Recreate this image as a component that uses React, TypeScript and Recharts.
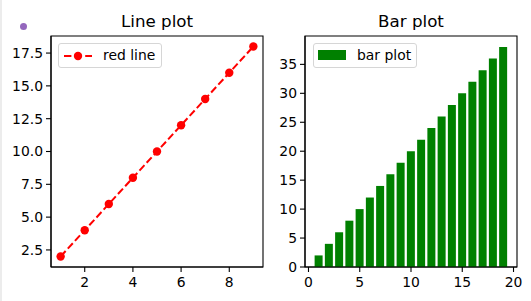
import { LineChart, Line, BarChart, Bar, XAxis, YAxis, ReferenceArea } from 'recharts'

const lineX = [1, 2, 3, 4, 5, 6, 7, 8, 9]
const lineY = [2, 4, 6, 8, 10, 12, 14, 16, 18]
const lineXTicks = [2, 4, 6, 8]
const lineYTicks = [2.5, 5, 7.5, 10, 12.5, 15, 17.5]

const barX = [1, 2, 3, 4, 5, 6, 7, 8, 9, 10, 11, 12, 13, 14, 15, 16, 17, 18, 19]
const barY = [2, 4, 6, 8, 10, 12, 14, 16, 18, 20, 22, 24, 26, 28, 30, 32, 34, 36, 38]
const barXTicks = [0, 5, 10, 15, 20]
const barYTicks = [0, 5, 10, 15, 20, 25, 30, 35]

const lineData = lineX.map((x, i) => ({ x, y: lineY[i] }))
const barData = barX.map((x, i) => ({ x, y: barY[i] }))

const lineXDomain = [0.6, 9.4]
const lineYDomain = [1.2, 18.8]
const barXDomain = [-0.34, 20.34]
const barYDomain = [0, 39.9]

const FONT = 'DejaVu Sans'
const tickStyle = { fill: '#000', fontSize: 13.9, fontFamily: FONT }
const axisStroke = { stroke: '#000', strokeWidth: 1.1 }

function Title({ text, center }: { text: string; center: number }) {
  return (
    <div
      style={{
        position: 'absolute',
        left: center - 100,
        width: 200,
        top: 11,
        textAlign: 'center',
        fontFamily: FONT,
        fontSize: 16.7,
        lineHeight: '20px',
        color: '#000',
      }}
    >
      {text}
    </div>
  )
}

const legendBox = {
  position: 'absolute' as const,
  top: 43,
  height: 25,
  boxSizing: 'border-box' as const,
  border: '1px solid #d6d6d6',
  borderRadius: 3,
  background: 'rgba(255,255,255,0.8)',
  fontFamily: FONT,
  fontSize: 13.9,
  color: '#000',
}

export default function App() {
  return (
    <div style={{ position: 'fixed', left: 0, top: 0, width: 531, height: 301, background: '#fff' }}>
      <div style={{ position: 'absolute', left: 0, top: 0, width: 2, height: 301, background: '#ececec' }} />
      <div
        style={{
          position: 'absolute',
          left: 19.5,
          top: 22.5,
          width: 7,
          height: 7,
          borderRadius: '50%',
          background: '#9467bd',
        }}
      />

      <div style={{ position: 'absolute', left: 0, top: 0 }}>
        <LineChart width={270} height={301} data={lineData} margin={{ top: 36, right: 7, bottom: 0, left: 0 }}>
          <XAxis
            dataKey="x"
            type="number"
            domain={lineXDomain}
            ticks={lineXTicks}
            allowDataOverflow
            height={34}
            tickSize={5}
            tickMargin={5}
            tick={tickStyle}
            tickLine={axisStroke}
            axisLine={axisStroke}
          />
          <YAxis
            type="number"
            domain={lineYDomain}
            ticks={lineYTicks}
            allowDataOverflow
            width={51}
            tickSize={5}
            tickMargin={3}
            tick={tickStyle}
            tickLine={axisStroke}
            axisLine={axisStroke}
            tickFormatter={(v: number) => v.toFixed(1)}
          />
          <ReferenceArea
            x1={lineXDomain[0]}
            x2={lineXDomain[1]}
            y1={lineYDomain[0]}
            y2={lineYDomain[1]}
            fill="none"
            stroke="#000"
            strokeWidth={1.1}
            ifOverflow="visible"
          />
          <Line
            dataKey="y"
            stroke="#ff0000"
            strokeWidth={2}
            strokeDasharray="7.4 3.2"
            dot={{ r: 4.2, fill: '#ff0000', stroke: '#ff0000', strokeWidth: 0 }}
            isAnimationActive={false}
          />
        </LineChart>
      </div>

      <div style={{ position: 'absolute', left: 270, top: 0 }}>
        <BarChart width={261} height={301} data={barData} margin={{ top: 36, right: 14, bottom: 0, left: 0 }}>
          <XAxis
            dataKey="x"
            type="number"
            domain={barXDomain}
            ticks={barXTicks}
            allowDataOverflow
            height={34}
            tickSize={5}
            tickMargin={5}
            tick={tickStyle}
            tickLine={axisStroke}
            axisLine={axisStroke}
          />
          <YAxis
            type="number"
            domain={barYDomain}
            ticks={barYTicks}
            allowDataOverflow
            width={35}
            tickSize={5}
            tickMargin={3}
            tick={tickStyle}
            tickLine={axisStroke}
            axisLine={axisStroke}
          />
          <Bar dataKey="y" fill="#008000" barSize={8} isAnimationActive={false} />
          <ReferenceArea
            x1={barXDomain[0]}
            x2={barXDomain[1]}
            y1={barYDomain[0]}
            y2={barYDomain[1]}
            fill="none"
            stroke="#000"
            strokeWidth={1.1}
            ifOverflow="visible"
          />
        </BarChart>
      </div>

      <Title text="Line plot" center={157} />
      <Title text="Bar plot" center={411} />

      <div style={{ ...legendBox, left: 58, width: 104 }}>
        <svg width={34} height={23} style={{ position: 'absolute', left: 4, top: 0 }}>
          <line x1={1} y1={12} x2={29} y2={12} stroke="#ff0000" strokeWidth={2} strokeDasharray="7.4 3.2" />
          <circle cx={15} cy={12} r={4.2} fill="#ff0000" />
        </svg>
        <span style={{ position: 'absolute', left: 44, top: 2, lineHeight: '18px' }}>red line</span>
      </div>

      <div style={{ ...legendBox, left: 313, width: 104 }}>
        <div style={{ position: 'absolute', left: 4, top: 6, width: 28, height: 10, background: '#008000' }} />
        <span style={{ position: 'absolute', left: 43, top: 2, lineHeight: '18px' }}>bar plot</span>
      </div>
    </div>
  )
}
